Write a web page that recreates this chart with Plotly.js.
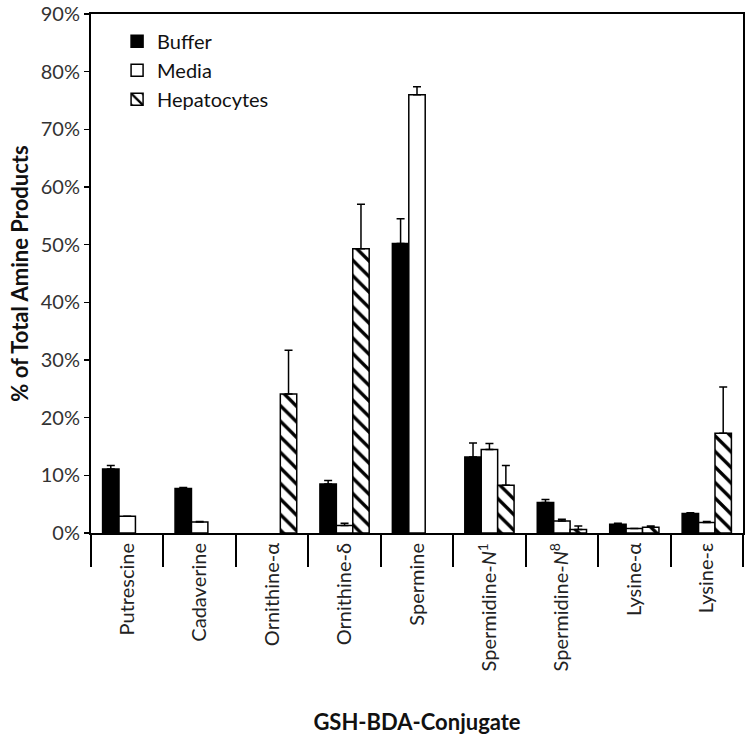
<!DOCTYPE html>
<html>
<head>
<meta charset="utf-8">
<script src="https://cdn.plot.ly/plotly-3.0.1.min.js"></script>
<style>html,body{margin:0;padding:0;background:#fff;}#chart{width:751px;height:742px;}</style>
</head>
<body>
<div id="chart"></div>
<script>
const categories = ["Putrescine","Cadaverine","Ornithine-α","Ornithine-δ","Spermine",
  "Spermidine-<i>N</i><sup>1</sup>","Spermidine-<i>N</i><sup>8</sup>","Lysine-α","Lysine-ε"];
// null = no bar drawn (0% in the reference)
const buffer      = [0.111, 0.077, null,  0.085, 0.502, 0.132, 0.053, 0.015, 0.034];
const bufferErr   = [0.006, 0.002, null,  0.006, 0.043, 0.024, 0.005, 0.002, 0.001];
const media       = [0.029, 0.019, null,  0.013, 0.760, 0.145, 0.021, 0.008, 0.018];
const mediaErr    = [null,  0.001, null,  0.004, 0.014, 0.010, 0.003, null,  0.002];
const hepatocytes = [null,  null,  0.241, 0.493, null,  0.083, 0.006, 0.010, 0.173];
const hepErr      = [null,  null,  0.076, 0.077, null,  0.034, 0.006, 0.002, 0.080];

const FONT = "Lato, 'Open Sans', sans-serif";
function err(arr){ return {type:'data', symmetric:false, array:arr, arrayminus:arr.map(()=>0),
  color:'#000', thickness:1.5, width:4, visible:true}; }

const traces = [
  {type:'bar', name:'Buffer', x:categories, y:buffer, error_y:err(bufferErr),
   marker:{color:'#000', line:{color:'#000', width:1.5}}},
  {type:'bar', name:'Media', x:categories, y:media, error_y:err(mediaErr),
   marker:{color:'#fff', line:{color:'#000', width:1.5}}},
  {type:'bar', name:'Hepatocytes', x:categories, y:hepatocytes, error_y:err(hepErr),
   marker:{color:'#fff', line:{color:'#000', width:1.5},
     pattern:{shape:'\\', fgcolor:'#000', bgcolor:'#fff', size:11, solidity:0.3}}}
];

const layout = {
  width:751, height:742,
  margin:{l:91, r:8, t:14, b:209},
  paper_bgcolor:'#fff', plot_bgcolor:'#fff',
  font:{family:FONT, color:'#222', size:20},
  barmode:'group', bargap:0.32, bargroupgap:0,
  showlegend:true,
  legend:{x:0.04, y:0.985, xanchor:'left', yanchor:'top', bgcolor:'rgba(0,0,0,0)',
    font:{family:FONT, size:20, color:'#111'}, tracegroupgap:0},
  xaxis:{type:'category', showline:true, linecolor:'#000', linewidth:2, mirror:true,
    ticks:'outside', tickson:'boundaries', ticklen:32, tickwidth:2, tickcolor:'#000',
    tickangle:-90, tickfont:{family:FONT, size:20, color:'#222'}, showgrid:false,
    zeroline:false, automargin:false,
    title:{text:'<b>GSH-BDA-Conjugate</b>', font:{family:FONT, size:22, color:'#111'}, standoff:44}},
  yaxis:{range:[0,0.9], dtick:0.1, tickformat:'.0%', showline:true, linecolor:'#000', linewidth:2,
    mirror:true, ticks:'outside', ticklen:5, tickwidth:1.5, tickcolor:'#000', showgrid:false,
    zeroline:false, automargin:false, tickfont:{family:FONT, size:20, color:'#333'},
    title:{text:'<b>% of Total Amine Products</b>', font:{family:FONT, size:22, color:'#111'}, standoff:6}}
};

Plotly.newPlot('chart', traces, layout, {displayModeBar:false, staticPlot:true});
</script>
</body>
</html>
